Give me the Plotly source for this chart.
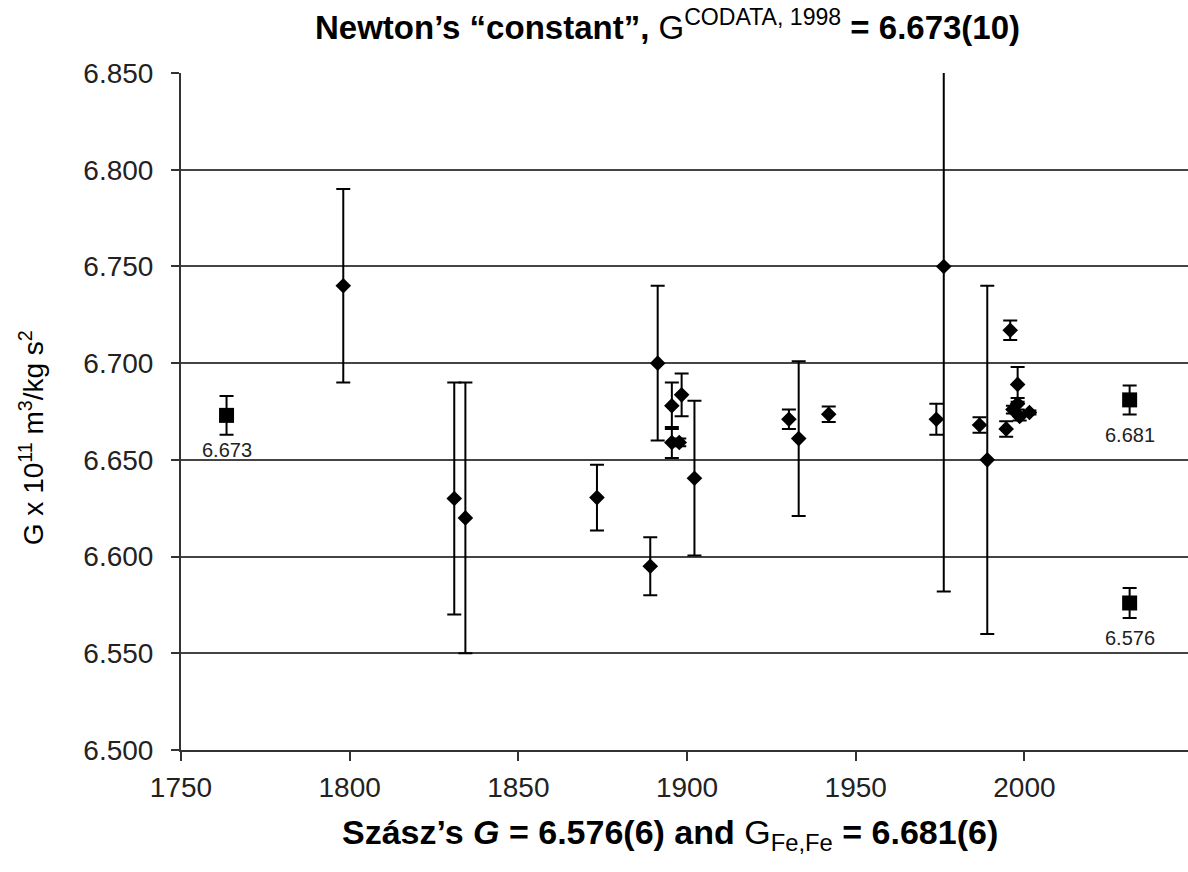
import plotly.graph_objects as go

# Historical measurements of G (x 10^-11 m^3/kg s^2)
years = [1798.1, 1831.0, 1834.3, 1873.3, 1889.1, 1891.3, 1895.5, 1895.5, 1897.7, 1898.4,
         1902.2, 1930.2, 1933.1, 1942.0, 1973.9, 1976.1, 1986.7, 1989.0, 1994.6, 1995.8,
         1996.6, 1998.0, 1998.0, 1998.6, 2001.5]
g_vals = [6.740, 6.630, 6.620, 6.6305, 6.595, 6.700, 6.678, 6.659, 6.659, 6.6836,
          6.6405, 6.671, 6.661, 6.6736, 6.671, 6.750, 6.668, 6.650, 6.666, 6.717,
          6.676, 6.689, 6.679, 6.6724, 6.6745]
g_errs = [0.050, 0.060, 0.070, 0.017, 0.015, 0.040, 0.012, 0.008, 0.002, 0.011,
          0.040, 0.005, 0.040, 0.004, 0.008, 0.168, 0.004, 0.090, 0.004, 0.005,
          0.002, 0.009, 0.003, 0.002, 0.001]

# Reference values (squares)
ref_x = [1763.5, 2031.2, 2031.2]
ref_vals = [6.673, 6.681, 6.576]
ref_errs = [0.010, 0.0075, 0.0078]
ref_labels = ["6.673", "6.681", "6.576"]

y_ticks = [6.500, 6.550, 6.600, 6.650, 6.700, 6.750, 6.800, 6.850]
x_ticks = [1750, 1800, 1850, 1900, 1950, 2000]

FONT = "Arial, 'Liberation Sans', sans-serif"

fig = go.Figure()
fig.add_trace(go.Scatter(
    x=years, y=g_vals, mode="markers",
    marker=dict(symbol="diamond", size=12, color="black"),
    error_y=dict(type="data", array=g_errs, visible=True, color="black", thickness=2, width=7),
    showlegend=False,
))
fig.add_trace(go.Scatter(
    x=ref_x, y=ref_vals, mode="markers",
    marker=dict(symbol="square", size=15, color="black"),
    error_y=dict(type="data", array=ref_errs, visible=True, color="black", thickness=2, width=7),
    showlegend=False,
))

annotations = [
    dict(text="<b>Newton’s “constant”, </b>G<sup>CODATA, 1998</sup><b> = 6.673(10)</b>",
         xref="paper", yref="paper", x=0.4836, y=1.071, xanchor="center", yanchor="middle",
         showarrow=False, font=dict(family=FONT, size=33, color="black")),
    dict(text="<b>Szász’s <i>G</i> = 6.576(6) and </b>G<sub>Fe,Fe</sub><b> = 6.681(6)</b>",
         xref="paper", yref="paper", x=0.4856, y=-0.125, xanchor="center", yanchor="middle",
         showarrow=False, font=dict(family=FONT, size=34, color="black")),
    dict(text="G x 10<sup>11</sup> m<sup>3</sup>/kg s<sup>2</sup>",
         xref="paper", yref="paper", x=-0.148, y=0.462, xanchor="center", yanchor="middle",
         textangle=-90, showarrow=False, font=dict(family=FONT, size=28, color="black")),
]
for xv, yv, lab in zip(ref_x, ref_vals, ref_labels):
    annotations.append(dict(text=lab, x=xv, y=yv, xref="x", yref="y", yshift=-35,
                            xanchor="center", yanchor="middle", showarrow=False,
                            font=dict(family=FONT, size=20, color="#222")))

fig.update_layout(
    width=1188, height=872,
    margin=dict(l=181, r=0, t=73, b=122),
    paper_bgcolor="white", plot_bgcolor="white",
    font=dict(family=FONT, color="#222"),
    xaxis=dict(range=[1750, 2048.5], tickvals=x_ticks, ticks="outside", ticklen=9,
               tickwidth=1.5, tickcolor="#333", showgrid=False, zeroline=False,
               showline=True, linecolor="#333", linewidth=2, ticklabelstandoff=2,
               tickfont=dict(size=28, family=FONT, color="#222")),
    yaxis=dict(range=[6.5, 6.85], tickvals=y_ticks, tickformat=".3f", ticks="outside",
               ticklen=8, tickwidth=1.5, tickcolor="#333", showgrid=True,
               gridcolor="#444", gridwidth=2, zeroline=False,
               showline=True, linecolor="#333", linewidth=2, ticklabelstandoff=12,
               tickfont=dict(size=28, family=FONT, color="#222")),
    annotations=annotations,
)

fig.write_html("out.html")
